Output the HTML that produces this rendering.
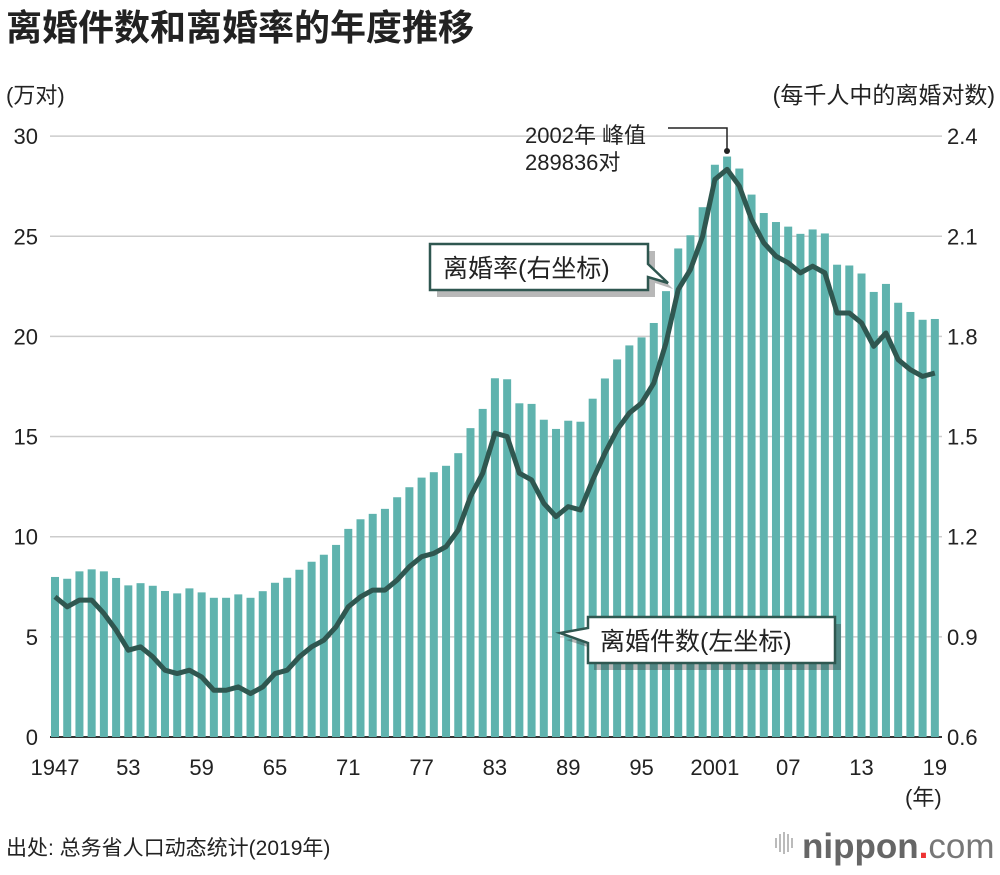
<!DOCTYPE html>
<html><head><meta charset="utf-8">
<style>
body{margin:0;background:#fff;width:1000px;height:870px;overflow:hidden;font-family:"Liberation Sans","Noto Sans CJK SC",sans-serif;}
svg text{font-family:"Liberation Sans","Noto Sans CJK SC",sans-serif;}
</style></head>
<body>
<svg id="chart" width="1000" height="870">
<text x="6" y="40" font-size="36" font-weight="bold" fill="#222">离婚件数和离婚率的年度推移</text>
<text x="6" y="103" font-size="22" fill="#222">(万对)</text>
<text x="995" y="103" font-size="23" fill="#222" text-anchor="end">(每千人中的离婚对数)</text>
<g id="grid"></g><g id="bars"></g><g id="line"></g><g id="axes"></g>
<g>
<text x="525" y="143" font-size="22" fill="#222">2002年 峰值</text>
<text x="525" y="170" font-size="22" fill="#222">289836对</text>
<polyline points="668,128 727,128 727,150" fill="none" stroke="#222" stroke-width="1.5"/>
<circle cx="727" cy="151" r="3" fill="#222"/>
</g>
<g>
<path d="M434,248 H652 V268 L670,286 L652,280 V294 H434 Z" fill="#333" opacity="0.35" transform="translate(3,3)"/>
<path d="M430,244 H648 V264 L668,283 L648,277 V290 H430 Z" fill="#fff" stroke="#2f5750" stroke-width="2.5"/>
<text x="443" y="277" font-size="25" fill="#222">离婚率(右坐标)</text>
</g>
<g>
<path d="M591,621 H838 V667 H591 V646 L563,637 L591,632 Z" fill="#333" opacity="0.35" transform="translate(3,3)"/>
<path d="M588,617 H835 V663 H588 V643 L560,633 L588,628 Z" fill="#fff" stroke="#2f5750" stroke-width="2.5"/>
<text x="600" y="650" font-size="25" fill="#222">离婚件数(左坐标)</text>
</g>
<text x="905" y="805" font-size="22" fill="#222">(年)</text>
<text x="6" y="855" font-size="21" fill="#222">出处: 总务省人口动态统计(2019年)</text>
<g>
<g fill="#bbb"><rect x="775" y="838" width="2" height="10"/><rect x="779" y="834" width="2" height="18"/><rect x="783" y="832" width="2" height="22"/><rect x="787" y="834" width="2" height="18"/><rect x="791" y="838" width="2" height="10"/></g>
<text x="802" y="858" font-size="35" fill="#666" font-weight="bold">nippon<tspan fill="#e33">.</tspan><tspan font-weight="normal" fill="#777">com</tspan></text>
</g>
</svg>
<script>
const years=[];for(let y=1947;y<=2019;y++)years.push(y);
const counts=[7.99,7.90,8.27,8.37,8.27,7.94,7.57,7.68,7.55,7.29,7.17,7.42,7.22,6.95,6.95,7.12,6.95,7.28,7.70,7.95,8.35,8.75,9.10,9.59,10.39,10.87,11.14,11.39,11.97,12.47,12.95,13.22,13.54,14.17,15.42,16.38,17.91,17.86,16.66,16.63,15.84,15.38,15.79,15.74,16.89,17.90,18.85,19.55,19.95,20.67,22.26,24.39,25.05,26.45,28.57,28.98,28.38,27.08,26.16,25.71,25.48,25.12,25.34,25.14,23.58,23.54,23.14,22.22,22.62,21.68,21.22,20.83,20.87];
const rates=[1.02,0.99,1.01,1.01,0.97,0.92,0.86,0.87,0.84,0.80,0.79,0.80,0.78,0.74,0.74,0.75,0.73,0.75,0.79,0.80,0.84,0.87,0.89,0.93,0.99,1.02,1.04,1.04,1.07,1.11,1.14,1.15,1.17,1.22,1.32,1.39,1.51,1.50,1.39,1.37,1.30,1.26,1.29,1.28,1.37,1.45,1.52,1.57,1.60,1.66,1.78,1.94,2.00,2.10,2.27,2.30,2.25,2.15,2.08,2.04,2.02,1.99,2.01,1.99,1.87,1.87,1.84,1.77,1.81,1.73,1.70,1.68,1.69];
const leftTicks=[0,5,10,15,20,25,30];
const rightTicks=["0.6","0.9","1.2","1.5","1.8","2.1","2.4"];
const xTickYears=[1947,1953,1959,1965,1971,1977,1983,1989,1995,2001,2007,2013,2019];
const xTickLabels=["1947","53","59","65","71","77","83","89","95","2001","07","13","19"];
const NS="http://www.w3.org/2000/svg";
const x=y=>55+(y-1947)*12.22;
const yL=v=>737-v*20.03;
const yR=v=>737-(v-0.6)*333.9;
function mk(tag,attrs,parent){const e=document.createElementNS(NS,tag);for(const k in attrs)e.setAttribute(k,attrs[k]);parent.appendChild(e);return e;}
const grid=document.getElementById('grid'),bars=document.getElementById('bars'),line=document.getElementById('line'),axes=document.getElementById('axes');
leftTicks.forEach((t,i)=>{
 const g=mk('line',{x1:50,x2:942,y1:yL(t),y2:yL(t),stroke:i==0?'#333':'#ccc','stroke-width':i==0?2:1.5},grid);
 
 
 const l=mk('text',{x:38,y:yL(t)+8,'font-size':22,'text-anchor':'end',fill:'#222'},axes);l.textContent=t;
 
 
 const r=mk('text',{x:947,y:yL(t)+8,'font-size':22,fill:'#222'},axes);r.textContent=rightTicks[i];
 
 
});
years.forEach((yr,i)=>{
 const b=mk('rect',{x:x(yr)-4,y:yL(counts[i]),width:8,height:yL(0)-yL(counts[i]),fill:'#5fb3ae'},bars);
 
 
});
const pl=mk('polyline',{points:years.map((yr,i)=>x(yr)+','+yR(rates[i])).join(' '),fill:'none',stroke:'#2f5750','stroke-width':5,'stroke-linejoin':'round'},line);


xTickYears.forEach((yr,i)=>{
 const t=mk('text',{x:x(yr),y:775,'font-size':22,'text-anchor':'middle',fill:'#222'},axes);t.textContent=xTickLabels[i];
 
 
});
</script>
</body></html>
